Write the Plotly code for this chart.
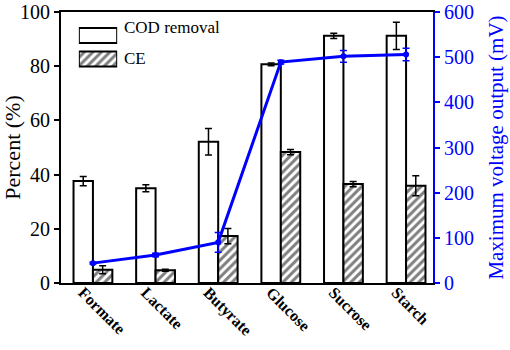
import plotly.graph_objects as go

categories = ["Formate", "Lactate", "Butyrate", "Glucose", "Sucrose", "Starch"]
cod_removal = [37.6, 35.0, 52.1, 80.7, 91.2, 91.2]
cod_err = [1.7, 1.3, 4.9, 0.5, 1.0, 5.0]
ce = [4.9, 4.7, 17.3, 48.3, 36.5, 35.9]
ce_err = [1.5, 0.4, 2.8, 1.0, 1.0, 3.7]
voltage = [44, 62, 90, 489, 502, 506]
voltage_err = [2, 4, 22, 4, 13, 14]

FONT = "Liberation Serif"
BLUE = "#0000FF"
HATCH = dict(shape="/", fgcolor="black", bgcolor="white", size=6, solidity=0.5)

fig = go.Figure()

fig.add_trace(go.Bar(
    x=categories, y=cod_removal, name="COD removal",
    offset=-0.31, width=0.31,
    marker=dict(color="white", line=dict(color="black", width=2)),
    error_y=dict(type="data", array=cod_err, color="black", thickness=1.5, width=3.5),
    showlegend=False,
))
fig.add_trace(go.Bar(
    x=categories, y=ce, name="CE",
    offset=0.0, width=0.31,
    marker=dict(color="white", line=dict(color="black", width=2), pattern=HATCH),
    error_y=dict(type="data", array=ce_err, color="black", thickness=1.5, width=3.5),
    showlegend=False,
))
fig.add_trace(go.Scatter(
    x=categories, y=voltage, yaxis="y2", mode="lines+markers",
    line=dict(color=BLUE, width=3), marker=dict(color=BLUE, size=6),
    error_y=dict(type="data", array=voltage_err, color=BLUE, thickness=1.5, width=3.5),
    showlegend=False,
))

# legend swatches drawn on a small auxiliary axis
legend_names = ["COD removal", "CE"]
fig.add_trace(go.Bar(
    x=[1], y=[1], orientation="h", width=0.64, xaxis="x3", yaxis="y3",
    marker=dict(color="white", line=dict(color="black", width=2)),
    showlegend=False, hoverinfo="skip",
))
fig.add_trace(go.Bar(
    x=[1], y=[0], orientation="h", width=0.64, xaxis="x3", yaxis="y3",
    marker=dict(color="white", line=dict(color="black", width=2), pattern=HATCH),
    showlegend=False, hoverinfo="skip",
))

fig.update_layout(
    width=510, height=350,
    margin=dict(l=61, r=77, t=12, b=67, autoexpand=False),
    paper_bgcolor="white", plot_bgcolor="white",
    barmode="overlay",
    font=dict(family=FONT, color="black", size=20),
    xaxis=dict(
        type="category", range=[-0.51, 5.43], automargin=False,
        showline=True, linecolor="black", linewidth=2, mirror=True,
        ticks="", ticklen=0, tickangle=45, ticklabelshift=-10,
        tickfont=dict(family=FONT, size=16, color="black", weight="bold"),
        showgrid=False, zeroline=False,
    ),
    yaxis=dict(
        range=[0, 100], dtick=20, automargin=False,
        showline=True, linecolor="black", linewidth=2,
        ticks="outside", ticklen=5, tickwidth=1.5, tickcolor="black",
        tickfont=dict(family=FONT, size=20, color="black"),
        title=dict(text="Percent (%)", font=dict(family=FONT, size=22, color="black")),
        showgrid=False, zeroline=False,
    ),
    yaxis2=dict(
        range=[0, 600], dtick=100, overlaying="y", side="right", automargin=False,
        showline=True, linecolor=BLUE, linewidth=2,
        ticks="outside", ticklen=5, tickwidth=1.5, tickcolor=BLUE,
        tickfont=dict(family=FONT, size=20, color=BLUE),
        title=dict(text="Maximum voltage output (mV)", font=dict(family=FONT, size=21, color=BLUE)),
        showgrid=False, zeroline=False,
    ),
    xaxis3=dict(domain=[0.048, 0.151], range=[0, 1], anchor="y3",
                visible=False, fixedrange=True),
    yaxis3=dict(domain=[0.783, 0.957], range=[-0.5, 1.5], anchor="x3",
                visible=False, fixedrange=True),
    annotations=[
        dict(text=legend_names[0], xref="paper", yref="paper", x=0.164, y=0.941,
             xanchor="left", yanchor="middle", showarrow=False,
             font=dict(family=FONT, size=17, color="black")),
        dict(text=legend_names[1], xref="paper", yref="paper", x=0.164, y=0.827,
             xanchor="left", yanchor="middle", showarrow=False,
             font=dict(family=FONT, size=17, color="black")),
    ],
)

try:
    fig.update_xaxes(ticklabelstandoff=-8, selector=dict(type="category"))
except ValueError:
    pass

fig.write_html("out.html", config={"displayModeBar": False},
               post_script="document.body.style.margin='0';")
